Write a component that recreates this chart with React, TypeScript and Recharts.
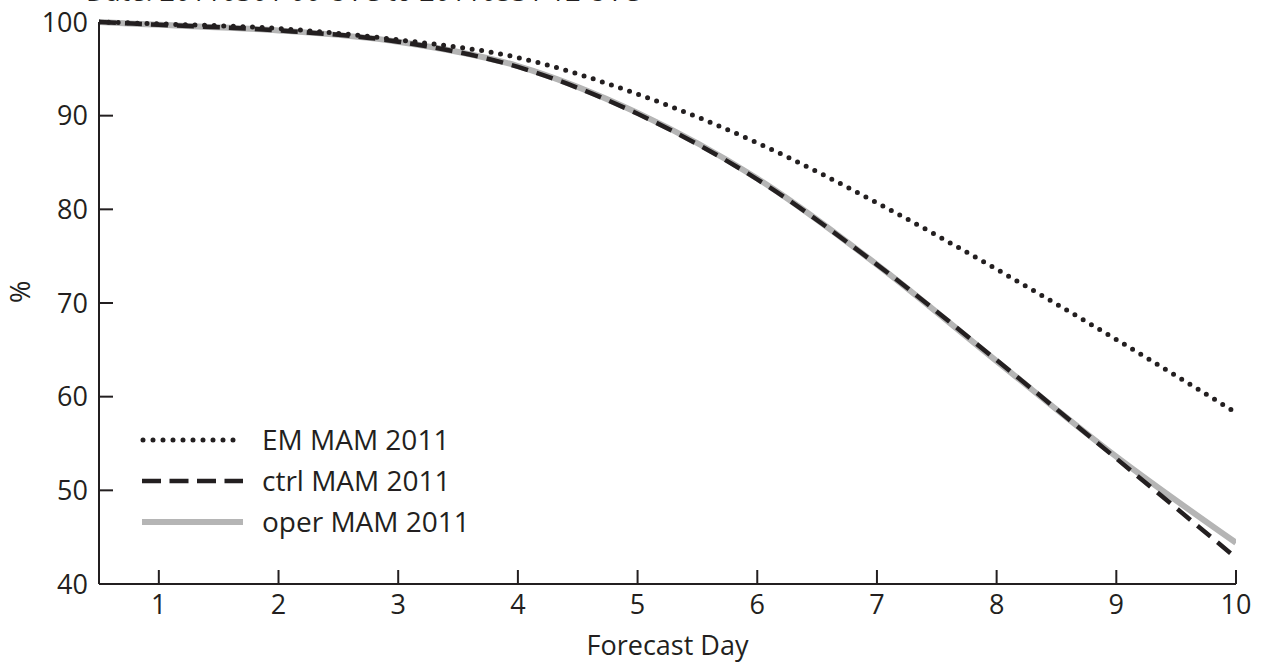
import React from "react";
import { LineChart, Line, XAxis, YAxis } from "recharts";

const days = [0.5, 1, 2, 3, 4, 5, 6, 7, 8, 9, 10];
const emValues = [100, 99.8, 99.3, 98.1, 96.2, 92.3, 87.1, 80.7, 73.6, 66.1, 58.3];
const ctrlValues = [100, 99.7, 99.1, 97.9, 95.2, 90.2, 83.2, 74.1, 63.9, 53.4, 42.8];
const operValues = [100, 99.7, 99.1, 97.9, 95.3, 90.3, 83.3, 74.1, 63.8, 53.6, 44.4];
const xTicks = [1, 2, 3, 4, 5, 6, 7, 8, 9, 10];
const yTicks = [40, 50, 60, 70, 80, 90, 100];
const seriesNames = ["EM MAM 2011", "ctrl MAM 2011", "oper MAM 2011"];
const title = "Date: 20110301 00 UTC to 20110531 12 UTC";

const data = days.map((d, i) => ({
  day: d,
  em: emValues[i],
  ctrl: ctrlValues[i],
  oper: operValues[i],
}));

const INK = "#231f20";
const GRAY = "#b5b5b5";
const FONT = "'Open Sans', sans-serif";
const FS = 27;

const tickStyle = { fontFamily: FONT, fontSize: FS, fill: INK };

export default function App() {
  return (
    <div style={{ position: "absolute", left: 0, top: 0, width: 1265, height: 665, background: "#fff", overflow: "hidden" }}>
      <div
        style={{
          position: "absolute",
          left: 86,
          top: -28,
          fontFamily: FONT,
          fontSize: FS,
          lineHeight: "37px",
          color: INK,
          whiteSpace: "nowrap",
        }}
      >
        {title}
      </div>
      <LineChart
        width={1265}
        height={665}
        data={data}
        margin={{ top: 22, right: 29, bottom: 19, left: 39 }}
      >
        <XAxis
          dataKey="day"
          type="number"
          domain={[0.5, 10]}
          ticks={xTicks}
          allowDataOverflow
          height={62}
          axisLine={{ stroke: INK, strokeWidth: 2 }}
          tickLine={{ stroke: INK, strokeWidth: 2 }}
          tickSize={-14}
          tickMargin={25}
          tick={tickStyle}
          label={{ value: "Forecast Day", position: "insideBottom", offset: -9, style: { fontFamily: FONT, fontSize: FS, fill: INK } }}
        />
        <XAxis
          xAxisId="top"
          orientation="top"
          dataKey="day"
          type="number"
          domain={[0.5, 10]}
          height={0}
          tick={false}
          tickLine={false}
          axisLine={{ stroke: INK, strokeWidth: 2 }}
        />
        <YAxis
          type="number"
          domain={[40, 100]}
          ticks={yTicks}
          width={60}
          axisLine={{ stroke: INK, strokeWidth: 2 }}
          tickLine={{ stroke: INK, strokeWidth: 2 }}
          tickSize={-14}
          tickMargin={25}
          tick={tickStyle}
          label={{ value: "%", angle: -90, position: "insideLeft", offset: -19, style: { fontFamily: FONT, fontSize: FS, fill: INK } }}
        />
        <YAxis
          yAxisId="right"
          orientation="right"
          domain={[40, 100]}
          width={0}
          tick={false}
          tickLine={false}
          axisLine={{ stroke: INK, strokeWidth: 2 }}
        />
        <Line
          type="monotone"
          dataKey="oper"
          name={seriesNames[2]}
          stroke={GRAY}
          strokeWidth={6}
          dot={false}
          isAnimationActive={false}
        />
        <Line
          type="monotone"
          dataKey="ctrl"
          name={seriesNames[1]}
          stroke={INK}
          strokeWidth={4.5}
          strokeDasharray="17 9"
          dot={false}
          isAnimationActive={false}
        />
        <Line
          type="monotone"
          dataKey="em"
          name={seriesNames[0]}
          stroke={INK}
          strokeWidth={5}
          strokeDasharray="0 9.6"
          strokeLinecap="round"
          dot={false}
          isAnimationActive={false}
        />
      </LineChart>
      <svg style={{ position: "absolute", left: 0, top: 0 }} width={1265} height={665} pointerEvents="none">
        <line x1={143} x2={243} y1={440} y2={440} stroke={INK} strokeWidth={5} strokeDasharray="0 10" strokeLinecap="round" />
        <line x1={142} x2={243} y1={481} y2={481} stroke={INK} strokeWidth={4.5} strokeDasharray="19 8.5" />
        <line x1={142} x2={243} y1={522} y2={522} stroke={GRAY} strokeWidth={6} />
        {seriesNames.map((n, i) => (
          <text key={n} x={262} y={440 + i * 41} dy="0.36em" fontFamily={FONT} fontSize={FS + 1} fill={INK}>
            {n}
          </text>
        ))}
      </svg>
    </div>
  );
}
